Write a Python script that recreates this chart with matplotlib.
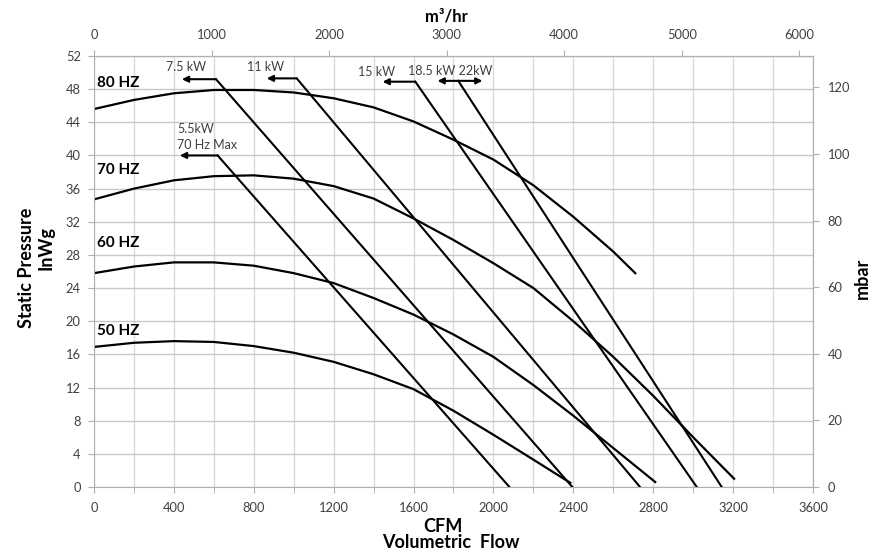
import numpy as np
import matplotlib
matplotlib.use('Agg')
import matplotlib.pyplot as plt

plt.rcParams['font.family'] = ['Lato', 'DejaVu Sans']

# fan curves, CFM vs static pressure (inWg)
cfm_80 = [0, 200, 400, 600, 800, 1000, 1200, 1400, 1600, 1800, 2000, 2200, 2400, 2600, 2710]
p_80 = [45.6, 46.7, 47.5, 47.9, 47.9, 47.6, 46.9, 45.8, 44.1, 41.9, 39.5, 36.4, 32.6, 28.4, 25.8]

cfm_70 = [0, 200, 400, 600, 800, 1000, 1200, 1400, 1600, 1800, 2000, 2200, 2400, 2600, 2800, 3000, 3205]
p_70 = [34.7, 36.0, 37.0, 37.5, 37.6, 37.2, 36.3, 34.8, 32.4, 29.8, 27.0, 24.0, 20.0, 15.7, 11.0, 6.0, 1.0]

cfm_60 = [0, 200, 400, 600, 800, 1000, 1200, 1400, 1600, 1800, 2000, 2200, 2400, 2600, 2810]
p_60 = [25.8, 26.6, 27.1, 27.1, 26.7, 25.8, 24.6, 22.8, 20.8, 18.4, 15.7, 12.3, 8.6, 4.7, 0.6]

cfm_50 = [0, 200, 400, 600, 800, 1000, 1200, 1400, 1600, 1800, 2000, 2200, 2385]
p_50 = [16.9, 17.4, 17.6, 17.5, 17.0, 16.2, 15.1, 13.6, 11.8, 9.2, 6.3, 3.3, 0.5]

hz_labels = ['80 HZ', '70 HZ', '60 HZ', '50 HZ']
hz_label_p = [48.8, 38.3, 29.4, 18.8]

# motor power limit lines
kw_labels = ['5.5kW\n70 Hz Max', '7.5 kW', '11 kW', '15 kW', '18.5 kW 22kW']
kw_start_cfm = [619, 611, 1015, 1609, 1824]
kw_start_p = [40.0, 49.2, 49.3, 48.9, 49.0]
kw_end_cfm = [2080, 2395, 2734, 3018, 3143]
kw_arrow_tip = [430, 440, 865, 1445, 1720]
kw_arrow_right = [None, None, None, None, 1945]
kw_label_cfm = [417, 459, 860, 1415, 1783]
kw_label_p = [42.2, 50.7, 50.7, 50.1, 50.2]

CFM_TO_M3H = 1.69901
INWG_TO_MBAR = 2.4884


def main():
    fig = plt.figure(figsize=(8.81, 5.53), dpi=100)
    ax = fig.add_axes([94 / 881, 66 / 553, 719 / 881, 431 / 553])

    ax.set_xlim(0, 3600)
    ax.set_ylim(0, 52)
    ax.set_xticks(np.arange(0, 3601, 400))
    ax.set_xticks(np.arange(0, 3601, 200), minor=True)
    ax.set_yticks(np.arange(0, 53, 4))
    ax.grid(which='both', axis='x', color='#dadada', linewidth=1)
    ax.grid(which='major', axis='y', color='#c8c8c8', linewidth=1)
    ax.set_axisbelow(True)

    gray = '#b0b0b0'
    txt = '#404040'
    for s in ax.spines.values():
        s.set_color(gray)
    ax.tick_params(which='both', direction='out', length=4.5, color=gray,
                   labelcolor=txt, labelsize=9.3)
    ax.tick_params(axis='x', pad=6)
    ax.tick_params(axis='y', pad=5)

    for c, p in [(cfm_80, p_80), (cfm_70, p_70), (cfm_60, p_60), (cfm_50, p_50)]:
        ax.plot(c, p, color='black', linewidth=1.6, solid_joinstyle='round')

    for lab, y in zip(hz_labels, hz_label_p):
        ax.text(15, y, lab, fontsize=11, fontweight='bold', va='center', ha='left')

    for i in range(len(kw_labels)):
        ax.plot([kw_start_cfm[i], kw_end_cfm[i]], [kw_start_p[i], 0],
                color='black', linewidth=1.5)
        if kw_arrow_right[i] is None:
            ax.annotate('', xy=(kw_arrow_tip[i], kw_start_p[i]),
                        xytext=(kw_start_cfm[i], kw_start_p[i]),
                        arrowprops=dict(arrowstyle='-|>', color='black', lw=1.5,
                                        mutation_scale=9, shrinkA=0, shrinkB=0))
        else:
            ax.annotate('', xy=(kw_arrow_tip[i], kw_start_p[i]),
                        xytext=(kw_arrow_right[i], kw_start_p[i]),
                        arrowprops=dict(arrowstyle='<|-|>', color='black', lw=1.5,
                                        mutation_scale=9, shrinkA=0, shrinkB=0))
        if i == 0:
            ax.text(kw_label_cfm[i], kw_label_p[i], kw_labels[i], fontsize=9,
                    color=txt, ha='left', va='center', linespacing=1.45)
        else:
            ax.text(kw_label_cfm[i], kw_label_p[i], kw_labels[i], fontsize=9,
                    color=txt, ha='center', va='center')

    top = ax.secondary_xaxis('top', functions=(lambda c: c * CFM_TO_M3H,
                                               lambda m: m / CFM_TO_M3H))
    top.set_xticks(np.arange(0, 6001, 1000))
    top.tick_params(direction='out', length=4.5, color=gray, labelcolor=txt,
                    labelsize=9.3, pad=6)
    top.spines['top'].set_color(gray)

    right = ax.secondary_yaxis('right', functions=(lambda p: p * INWG_TO_MBAR,
                                                   lambda m: m / INWG_TO_MBAR))
    right.set_yticks(np.arange(0, 121, 20))
    right.tick_params(direction='out', length=4.5, color=gray, labelcolor=txt,
                      labelsize=9.3, pad=6)
    right.spines['right'].set_color(gray)

    fig.text(27 / 881, 1 - 268 / 553, 'Static Pressure', rotation=90,
             fontsize=13, fontweight='bold', ha='center', va='center')
    fig.text(46 / 881, 1 - 248 / 553, 'InWg', rotation=90,
             fontsize=13, fontweight='bold', ha='center', va='center')
    fig.text(443 / 881, 1 - 526 / 553, 'CFM', fontsize=13, fontweight='bold',
             ha='center', va='center')
    fig.text(451 / 881, 1 - 543 / 553, 'Volumetric  Flow', fontsize=13,
             fontweight='bold', ha='center', va='center')
    fig.text(446 / 881, 1 - 16 / 553, 'm³/hr', fontsize=12, fontweight='bold',
             ha='center', va='center')
    fig.text(862 / 881, 1 - 278 / 553, 'mbar', rotation=90, fontsize=13,
             fontweight='bold', ha='center', va='center')

    fig.savefig('out.png', dpi=100)


if __name__ == "__main__":
    main()
